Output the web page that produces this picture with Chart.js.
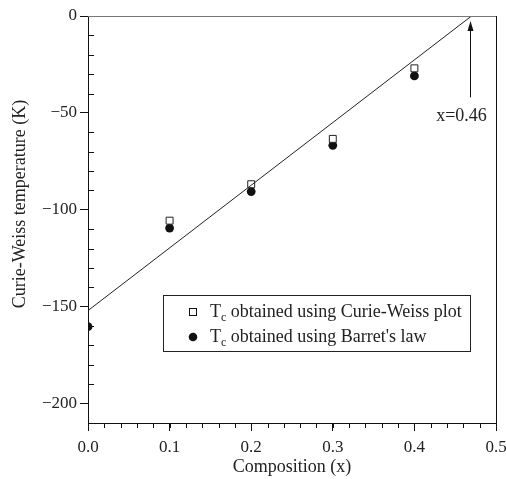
<!DOCTYPE html>
<html lang="en">
<head>
  <meta charset="UTF-8">
  <title>Curie-Weiss temperature vs composition</title>
  <script src="https://cdn.jsdelivr.net/npm/chart.js"></script>
  <style>
    body { margin: 0; background: #fff; }
    #wrap { width: 506px; height: 479px; }
  </style>
</head>
<body>
  <div id="wrap"><canvas id="chart" width="506" height="479"></canvas></div>
  <script>
    // Tc from the Curie-Weiss plot (open squares)
    const cwX = [0.1, 0.2, 0.3, 0.4];
    const cwY = [-105.6, -86.8, -63.4, -27];
    // Tc from Barret's law (filled circles)
    const barX = [0.0, 0.1, 0.2, 0.3, 0.4];
    const barY = [-160.3, -109.4, -90.6, -66.7, -30.9];
    // linear fit
    const fitX = [0, 0.47];
    const fitY = [-152, 0];
    // axis ticks
    const xTicks = [0, 0.1, 0.2, 0.3, 0.4, 0.5];
    const yTicks = [-200, -150, -100, -50, 0];
    const arrowX = 0.468;
    const arrowFrom = -42;

    const FONT = '"Liberation Serif", "DejaVu Serif", serif';

    const pts = (xs, ys) => xs.map((x, i) => ({ x: x, y: ys[i] }));

    // minor ticks, plot frame, y title, legend box and arrow annotation
    const extras = {
      id: 'extras',
      afterDraw(chart) {
        const ctx = chart.ctx;
        const a = chart.chartArea;
        const xs = chart.scales.x, ys = chart.scales.y;
        ctx.save();
        ctx.strokeStyle = '#111';
        ctx.lineWidth = 1;
        // minor ticks x (outside)
        for (let v = 0; v <= 0.5001; v += 0.02) {
          const px = Math.round(xs.getPixelForValue(v)) + 0.5;
          ctx.beginPath(); ctx.moveTo(px, a.bottom); ctx.lineTo(px, a.bottom + 5); ctx.stroke();
        }
        // minor ticks y (inside)
        for (let v = -210; v <= 0; v += 10) {
          if (v % 50 === 0) continue;
          const py = Math.round(ys.getPixelForValue(v)) + 0.5;
          ctx.beginPath(); ctx.moveTo(a.left, py); ctx.lineTo(a.left + 6, py); ctx.stroke();
        }
        // frame
        ctx.beginPath();
        ctx.moveTo(a.left + 0.5, a.top); ctx.lineTo(a.left + 0.5, a.bottom + 0.5);
        ctx.lineTo(a.right + 0.5, a.bottom + 0.5); ctx.lineTo(a.right + 0.5, a.top);
        ctx.stroke();
        ctx.strokeStyle = '#777';
        ctx.beginPath(); ctx.moveTo(a.left, a.top + 0.5); ctx.lineTo(a.right, a.top + 0.5); ctx.stroke();

        // y axis title
        ctx.fillStyle = '#222';
        ctx.font = '18px ' + FONT;
        ctx.textAlign = 'center';
        ctx.textBaseline = 'middle';
        ctx.save();
        ctx.translate(20, 204);
        ctx.rotate(-Math.PI / 2);
        ctx.fillText('Curie-Weiss temperature (K)', 0, 0);
        ctx.restore();

        // arrow marking x where the fit crosses zero
        const ax = Math.round(xs.getPixelForValue(arrowX)) + 0.5;
        const ay0 = ys.getPixelForValue(arrowFrom);
        const ay1 = ys.getPixelForValue(0) + 5;
        ctx.strokeStyle = '#111';
        ctx.fillStyle = '#111';
        ctx.beginPath(); ctx.moveTo(ax, ay0); ctx.lineTo(ax, ay1 + 8); ctx.stroke();
        ctx.beginPath(); ctx.moveTo(ax, ay1); ctx.lineTo(ax - 3, ay1 + 10); ctx.lineTo(ax + 3, ay1 + 10); ctx.closePath(); ctx.fill();
        ctx.fillStyle = '#222';
        ctx.font = '18px ' + FONT;
        ctx.fillText('x=0.46', ax - 9, ay0 + 19);

        // legend
        const lx = 163.5, ly = 295.5, lw = 307, lh = 56;
        ctx.fillStyle = '#fff';
        ctx.fillRect(lx, ly, lw, lh);
        ctx.strokeStyle = '#222';
        ctx.strokeRect(lx, ly, lw, lh);
        ctx.fillStyle = '#111';
        ctx.strokeStyle = '#111';
        ctx.strokeRect(189.5, 308.5, 7, 7);
        ctx.beginPath(); ctx.arc(193, 337, 4.3, 0, Math.PI * 2); ctx.fill();
        const entries = [
          { y: 317, text: ' obtained using Curie-Weiss plot' },
          { y: 342, text: " obtained using Barret's law" }
        ];
        ctx.fillStyle = '#222';
        ctx.textAlign = 'left';
        ctx.textBaseline = 'alphabetic';
        entries.forEach(e => {
          let x = 210;
          ctx.font = '18px ' + FONT;
          ctx.fillText('T', x, e.y);
          x += ctx.measureText('T').width;
          ctx.font = '12px ' + FONT;
          ctx.fillText('c', x, e.y + 4);
          x += ctx.measureText('c').width;
          ctx.font = '18px ' + FONT;
          ctx.fillText(e.text, x, e.y);
        });
        ctx.restore();
      }
    };

    new Chart(document.getElementById('chart'), {
      type: 'scatter',
      data: {
        datasets: [
          {
            type: 'line',
            data: pts(fitX, fitY),
            borderColor: '#222',
            borderWidth: 1,
            pointRadius: 0,
            fill: false
          },
          {
            data: pts(cwX, cwY),
            pointStyle: 'rect',
            pointRadius: 4.9,
            borderColor: '#222',
            borderWidth: 1,
            backgroundColor: '#fff',
            clip: 0
          },
          {
            data: pts(barX, barY),
            pointStyle: 'circle',
            pointRadius: 4.4,
            borderColor: '#111',
            borderWidth: 0,
            backgroundColor: '#111',
            clip: 0
          }
        ]
      },
      options: {
        responsive: false,
        animation: false,
        layout: { padding: { top: 16, right: 10, left: 0, bottom: 0 } },
        plugins: { legend: { display: false }, tooltip: { enabled: false } },
        scales: {
          x: {
            type: 'linear',
            min: 0,
            max: 0.5,
            afterBuildTicks: s => { s.ticks = xTicks.map(v => ({ value: v })); },
            afterFit: s => { s.height = 56; s.paddingLeft = 0; s.paddingRight = 0; },
            border: { display: false },
            grid: { drawOnChartArea: false, tickLength: 8, color: '#111' },
            ticks: {
              color: '#222',
              padding: 6,
              font: { family: FONT, size: 17 },
              maxRotation: 0,
              callback: v => v.toFixed(1)
            },
            title: {
              display: true,
              text: 'Composition (x)',
              color: '#222',
              font: { family: FONT, size: 18 },
              padding: { top: 0, bottom: 1 }
            }
          },
          y: {
            type: 'linear',
            min: -210,
            max: 0,
            afterBuildTicks: s => { s.ticks = yTicks.map(v => ({ value: v })); },
            afterFit: s => { s.width = 88; s.paddingTop = 0; s.paddingBottom = 0; },
            border: { display: false },
            grid: { drawOnChartArea: false, tickLength: 8, color: '#111' },
            ticks: {
              color: '#222',
              padding: 3,
              font: { family: FONT, size: 17 },
              callback: v => (v < 0 ? '\u2212' + Math.abs(v) : String(v))
            }
          }
        }
      },
      plugins: [extras]
    });
  </script>
</body>
</html>
